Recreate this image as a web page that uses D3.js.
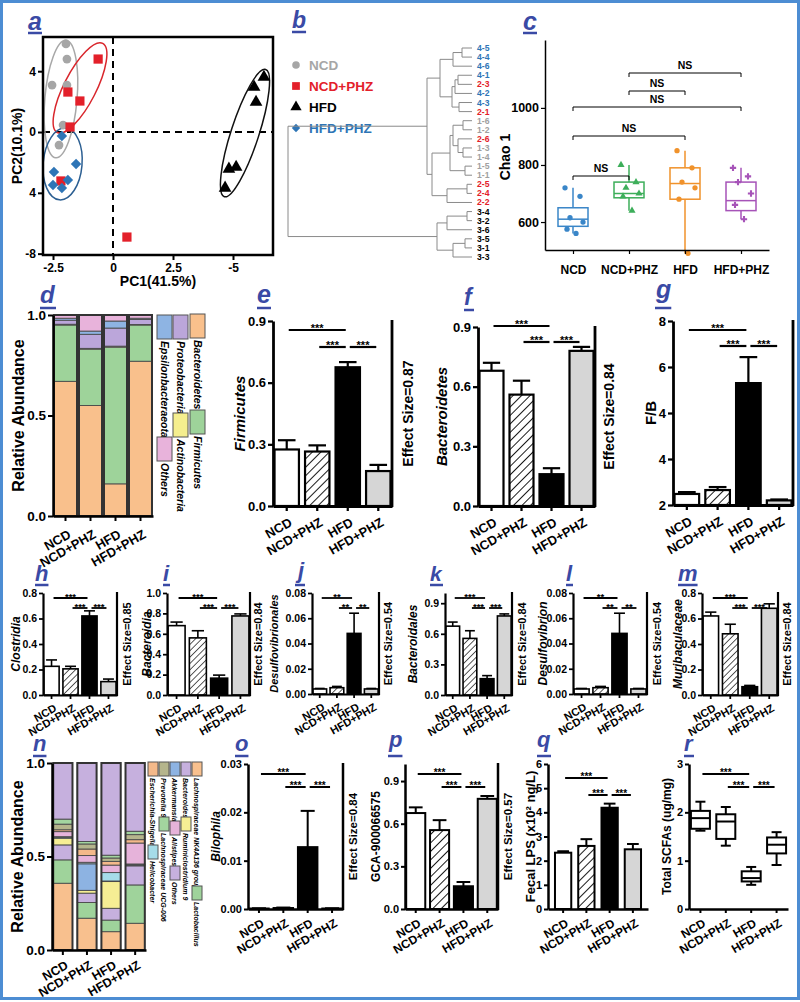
<!DOCTYPE html>
<html>
<head>
<meta charset="utf-8">
<script src="https://cdn.jsdelivr.net/npm/d3@7/dist/d3.min.js"></script>
<style>
html,body{margin:0;padding:0;background:#fff;}
svg{display:block;}
</style>
</head>
<body>
<svg id="fig" width="800" height="1002"></svg>
<script>
// ===================== DATA =====================
const groups = ["NCD","NCD+PHZ","HFD","HFD+PHZ"];

// (a) PCA scores [PC1, PC2]
const pcaNCD    = [[-1.96,5.79],[-1.92,4.80],[-2.54,3.09],[-1.92,3.09],[-2.08,0.46],[-2.25,-0.86]];
const pcaNCDPHZ = [[-0.62,4.80],[-1.88,2.63],[-1.38,2.04],[-1.79,0.33],[-2.17,-3.22],[0.58,-6.91]];
const pcaHFD    = [[6.29,3.62],[5.88,2.96],[5.96,1.97],[4.83,-2.43],[5.13,-2.30],[4.67,-3.68]];
const pcaHFDPHZ = [[-2.13,-0.26],[-1.54,-2.11],[-2.46,-2.63],[-1.88,-3.16],[-2.50,-3.49],[-2.13,-3.68]];
const pcaXTicks = [-2.5,0,2.5,5];
const pcaXTickLabels = ["-2.5","0","2.5","-5"];
const pcaYTicks = [4,0,-4,-8];
const pcaYTickLabels = ["4","0","4","-8"];
// group ellipses: [centre PC1, centre PC2, semi-axis PC1, semi-axis PC2, tilt]
const pcaEllipses = [[-2.17,2.17,0.67,3.88,5],[-1.375,2.9,0.67,3.29,27],[5.5,-0.07,0.58,4.4,18],[-2.1,-2.1,0.81,2.37,5]];

// (b) dendrogram (h = merge height)
const dendro = {h:18.4,c:[
  {h:4.5,c:[
    {h:3.2,c:[
      {h:1.9,c:[{h:1.0,c:["4-5","4-4"]},"4-6"]},
      {h:2.0,c:[{h:1.7,c:[{h:1.4,c:["4-1","2-3"]},"4-2"]},{h:1.3,c:["4-3","2-1"]}]}
    ]},
    {h:4.0,c:[
      {h:2.2,c:[{h:1.9,c:[{h:0.9,c:["1-6","1-2"]},{h:1.4,c:["2-6",{h:0.9,c:["1-3","1-4"]}]}]},{h:0.7,c:["1-5","1-1"]}]},
      {h:2.5,c:[{h:0.5,c:["2-5","2-4"]},"2-2"]}
    ]}
  ]},
  {h:3.5,c:[
    {h:2.5,c:[{h:0.5,c:["3-4","3-2"]},"3-6"]},
    {h:1.9,c:[{h:0.7,c:["3-5","3-1"]},"3-3"]}
  ]}
]};

// (c) Chao 1: [min, q1, median, q3, max] and samples
const chaoStats  = [[560,585,610,650,720],[640,685,700,740,800],[490,680,735,790,850],[610,640,675,740,790]];
const chaoPoints = [[720,690,615,600,575,560],[800,740,720,700,690,640],[850,790,740,720,680,490],[790,760,740,700,660,610]];
const chaoTicks = [600,800,1000];
const chaoComparisons = [[0,1],[0,2],[0,3],[1,2],[1,3]];

// (d) phylum composition
const phylumKeys = ["Bacteroidetes","Firmicutes","Actinobacteria","Proteobacteria","Epsilonbacteraeota","Others"];
const phyBacteroidetes = [0.67,0.55,0.16,0.77];
const phyFirmicutes    = [0.28,0.28,0.68,0.18];
const phyActino        = [0.004,0.004,0.005,0.003];
const phyProteo        = [0.02,0.07,0.09,0.025];
const phyEpsilon       = [0.01,0.016,0.035,0.006];
const phyOthers        = [0.016,0.08,0.03,0.016];

// (e)-(g)
const firmicutesMean = [0.275,0.265,0.675,0.17],  firmicutesSEM = [0.045,0.03,0.025,0.03];
const bacteroidetesMean = [0.68,0.56,0.16,0.78],   bacteroidetesSEM = [0.04,0.07,0.03,0.02];
const fbMean = [0.48,0.65,5.3,0.2],                fbSEM = [0.08,0.13,1.13,0.04];
const fbTicks = [0,2,4,6,8], fbTickLabels = ["2","4","4","6","8"];

// (h)-(m)
const clostridiaMean = [0.225,0.205,0.62,0.105],   clostridiaSEM = [0.05,0.02,0.04,0.02];
const bacteroidiaMean = [0.68,0.56,0.165,0.775],   bacteroidiaSEM = [0.035,0.07,0.03,0.02];
const desulfoOrdMean = [0.004,0.005,0.048,0.004],  desulfoOrdSEM = [0.0004,0.001,0.016,0.0004];
const bacteroidalesMean = [0.675,0.555,0.16,0.775],bacteroidalesSEM = [0.04,0.075,0.03,0.02];
const desulfoGenMean = [0.004,0.005,0.048,0.004],  desulfoGenSEM = [0.0004,0.001,0.016,0.0004];
const muribacMean = [0.62,0.48,0.065,0.68],        muribacSEM = [0.03,0.075,0.01,0.035];

// (n) genus composition
const genusKeys = ["Lachnospiraceae NK4A136 group","Lactobacillus","Bacteroides","Ruminiclostridium 9","Akkermansia","Helicobacter","Alistipes","Escherichia-Shigella","Prevotella 9","Lachnospiraceae UCG-006","Others"];
const genNK4A136   = [0.357,0.17,0.098,0.143];
const genLacto     = [0.125,0.084,0.062,0.205];
const genBacteroides = [0.08,0.05,0.063,0.102];
const genRumini    = [0.036,0.015,0.143,0.004];
const genAkk       = [0.005,0.142,0.003,0.003];
const genHelico    = [0.003,0.008,0.045,0.003];
const genAlistipes = [0.027,0.036,0.04,0.112];
const genEscher    = [0.01,0.035,0.02,0.018];
const genPrevo     = [0.03,0.027,0.018,0.027];
const genUCG006    = [0.027,0.013,0.015,0.018];
const genOthers    = [0.30,0.42,0.493,0.365];

// (o)-(r)
const bilophilaMean = [0.0001,0.0002,0.0128,0.0001], bilophilaSEM = [0.00005,0.0001,0.0075,0.00005];
const gcaMean = [0.675,0.555,0.16,0.775],            gcaSEM = [0.04,0.07,0.03,0.02];
const lpsMean = [2.33,2.61,4.19,2.47],               lpsSEM = [0.06,0.28,0.17,0.22];
const scfaStats = [[1.62,1.66,1.88,2.03,2.22],[1.31,1.45,1.81,1.96,2.11],[0.50,0.57,0.64,0.78,0.87],[0.91,1.15,1.33,1.48,1.59]];

// standard comparisons [i, j, row]
const sigPairs = [[0,2,0],[1,2,1],[2,3,1]];

// ===================== DRAWING =====================
const FONT = '"Liberation Sans", Arial, Helvetica, sans-serif';
const svg = d3.select("#fig").attr("font-family", FONT).attr("font-weight","bold");
svg.append("rect").attr("width",800).attr("height",1002).attr("fill","#fff");
const defs = svg.append("defs");
function makeHatch(id, s, w){
  const p = defs.append("pattern").attr("id",id).attr("patternUnits","userSpaceOnUse")
    .attr("width",s).attr("height",s).attr("patternTransform","rotate(45)");
  p.append("rect").attr("width",s).attr("height",s).attr("fill","#fff");
  p.append("line").attr("x1",0).attr("y1",0).attr("x2",0).attr("y2",s).attr("stroke","#000").attr("stroke-width",w);
}
makeHatch("hatchL",6,1.8); makeHatch("hatchS",4.5,1.3);

svg.append("rect").attr("x",1.5).attr("y",1.5).attr("width",797).attr("height",997)
  .attr("fill","none").attr("stroke","#4D8DD3").attr("stroke-width",3);

function txt(g,x,y,s,fs,o={}){
  const t=g.append("text").attr("x",x).attr("y",y).text(s).attr("font-size",fs)
    .attr("fill",o.fill||"#000").attr("text-anchor",o.anchor||"start");
  if(o.italic) t.attr("font-style","italic");
  if(o.db) t.attr("dominant-baseline",o.db);
  if(o.rot!=null) t.attr("transform",`rotate(${o.rot},${x},${y})`);
  return t;
}
function yAxis(g, scale, x, ticks, labels, fs, sw, ts){
  const a=g.append("g").attr("transform",`translate(${x},0)`)
    .call(d3.axisLeft(scale).tickValues(ticks).tickFormat((d,i)=>labels[i]).tickSize(ts).tickSizeOuter(0).tickPadding(2));
  a.attr("font-family",FONT).attr("font-size",fs).attr("font-weight","bold");
  a.select(".domain").attr("stroke","#000").attr("stroke-width",sw);
  a.selectAll(".tick line").attr("stroke","#000").attr("stroke-width",sw*0.8);
  a.selectAll(".tick text").attr("fill","#000");
  return a;
}
function xAxisCat(g, scale, y, fs, sw, ts, rot, dx, dy){
  const a=g.append("g").attr("transform",`translate(0,${y})`)
    .call(d3.axisBottom(scale).tickSize(ts).tickSizeOuter(0));
  a.attr("font-family",FONT).attr("font-size",fs).attr("font-weight","bold");
  a.select(".domain").attr("stroke","#000").attr("stroke-width",sw);
  a.selectAll(".tick line").attr("stroke","#000").attr("stroke-width",sw*0.8);
  a.selectAll(".tick text").attr("fill","#000").attr("x",0).attr("y",0).attr("dy","0.35em")
    .style("text-anchor","end").attr("transform",`translate(${dx},${ts+dy}) rotate(${rot})`);
  return a;
}
function letter(t,x,y,uy,fs){
  const g=svg.append("g");
  const tx=txt(g,x,y,t,fs,{italic:true,fill:"#3A4AA5"}).attr("font-weight","900");
  const bb=tx.node().getBBox();
  g.append("line").attr("x1",bb.x).attr("x2",bb.x+bb.width).attr("y1",uy).attr("y2",uy)
    .attr("stroke","#3A4AA5").attr("stroke-width",2.5);
}
function sigMarks(g, x, L, pairs, label){
  const cx=d=>x(d)+x.bandwidth()/2;
  pairs.forEach(([i,j,r])=>{
    const xa=cx(groups[i])+2, xb=cx(groups[j])-2, yy=L.sy[r];
    g.append("line").attr("x1",xa).attr("x2",xb).attr("y1",yy).attr("y2",yy).attr("stroke","#000").attr("stroke-width",L.ssw||2);
    txt(g,(xa+xb)/2,yy+L.sfs*0.22,label,L.sfs,{anchor:"middle"});
  });
}

// ---------- generic bar panel ----------
function barPanel(L, means, errs, sigLabel){
  const g=svg.append("g");
  const y=d3.scaleLinear().domain(L.dom).range([L.yb,L.yt]);
  const x=d3.scaleBand().domain(groups).range([L.ax,L.x1]).paddingInner(L.pi).paddingOuter(L.po);
  const fills=["#fff",`url(#${L.hatch})`,"#000","#d6d6d6"];
  const cx=d=>x(d)+x.bandwidth()/2;
  g.selectAll("rect.bar").data(groups).join("rect").attr("class","bar")
    .attr("x",d=>x(d)).attr("width",x.bandwidth())
    .attr("y",(d,i)=>y(means[i])).attr("height",(d,i)=>Math.max(0,y(L.dom[0])-y(means[i])))
    .attr("fill",(d,i)=>fills[i]).attr("stroke","#000").attr("stroke-width",L.bsw);
  groups.forEach((d,i)=>{
    const y0=y(means[i]), y1=y(means[i]+errs[i]), cw=x.bandwidth()*0.36;
    g.append("line").attr("x1",cx(d)).attr("x2",cx(d)).attr("y1",y0).attr("y2",y1).attr("stroke","#000").attr("stroke-width",L.bsw);
    g.append("line").attr("x1",cx(d)-cw).attr("x2",cx(d)+cw).attr("y1",y1).attr("y2",y1).attr("stroke","#000").attr("stroke-width",L.bsw);
  });
  yAxis(g,y,L.ax,L.ticks,L.labels||L.ticks.map(d3.format(L.fmt)),L.tfs,L.asw,L.ts);
  xAxisCat(g,x,L.yb,L.xfs,L.asw,L.ts,-30,4,L.xdy);
  if(L.eline) g.append("line").attr("x1",L.x1).attr("x2",L.x1).attr("y1",L.yt-1).attr("y2",L.yb+1).attr("stroke","#000").attr("stroke-width",L.asw);
  if(L.etext) txt(g,L.ex,(L.yt+L.yb)/2,L.etext,L.efs,{anchor:"middle",db:"central",rot:-90});
  txt(g,L.tx,(L.yt+L.yb)/2,L.title,L.tfs2,{anchor:"middle",db:"central",rot:-90,italic:L.ti});
  sigMarks(g,x,L,sigPairs,sigLabel);
  return g;
}

// ---------- generic stacked panel ----------
function stackPanel(L, keys, cols, series){
  const g=svg.append("g");
  const table=groups.map((grp,gi)=>{const o={grp}; keys.forEach((k,ki)=>o[k]=series[ki][gi]); return o;});
  const layers=d3.stack().keys(keys)(table);
  const y=d3.scaleLinear().domain([0,1]).range([L.yb,L.yt]);
  const x=d3.scaleBand().domain(groups).range([L.ax,L.x1]).paddingInner(L.pi).paddingOuter(L.po);
  layers.forEach((layer,li)=>{
    g.selectAll(null).data(layer).join("rect")
      .attr("x",d=>x(d.data.grp)).attr("width",x.bandwidth())
      .attr("y",d=>y(Math.min(1,d[1]))).attr("height",d=>Math.max(0,y(d[0])-y(Math.min(1,d[1]))))
      .attr("fill",cols[li]).attr("stroke","#4a4a4a").attr("stroke-width",0.9);
  });
  g.selectAll(null).data(groups).join("rect").attr("x",d=>x(d)).attr("width",x.bandwidth())
    .attr("y",y(1)).attr("height",y(0)-y(1)).attr("fill","none").attr("stroke","#333").attr("stroke-width",2);
  yAxis(g,y,L.ax,[0,0.5,1],["0.0","0.5","1.0"],L.tfs,2.5,5);
  xAxisCat(g,x,L.yb,L.xfs,2.5,5,-30,4,L.xdy);
  txt(g,L.tx,(L.yt+L.yb)/2,"Relative Abundance",16,{anchor:"middle",db:"central",rot:-90});
  L.legend.forEach((e)=>{
    const ki=keys.indexOf(e.k);
    g.append("rect").attr("x",e.x).attr("y",e.y).attr("width",L.lw).attr("height",L.lh)
      .attr("fill",cols[ki]).attr("stroke","#555").attr("stroke-width",1);
    const lx=e.x+L.lw/2-L.lfs*0.36, ly=e.y+L.lh+2;
    txt(g,lx,ly,e.k,L.lfs,{italic:true,rot:90});
  });
}

// ===================== PANEL a =====================
(function(){
  const g=svg.append("g");
  const L={x0:43,x1:273,y0:37,y1:255};
  const x=d3.scaleLinear().domain([-2.917,6.667]).range([L.x0,L.x1]);
  const y=d3.scaleLinear().domain([-8.09,6.25]).range([L.y1,L.y0]);
  g.append("line").attr("x1",x(0)).attr("x2",x(0)).attr("y1",L.y0).attr("y2",L.y1).attr("stroke","#000").attr("stroke-width",2).attr("stroke-dasharray","7,5");
  g.append("line").attr("x1",L.x0).attr("x2",L.x1).attr("y1",y(0)).attr("y2",y(0)).attr("stroke","#000").attr("stroke-width",2).attr("stroke-dasharray","7,5");
  const ecol=["#a8a8a8","#d9262c","#111","#2c5f92"];
  pcaEllipses.forEach((e,i)=>{
    const cx=x(e[0]), cy=y(e[1]), rx=x(e[0]+e[2])-x(e[0]), ry=y(e[1])-y(e[1]+e[3]);
    g.append("ellipse").attr("cx",cx).attr("cy",cy).attr("rx",rx).attr("ry",ry)
      .attr("transform",`rotate(${e[4]},${cx},${cy})`).attr("fill","none").attr("stroke",ecol[i]).attr("stroke-width",1.5);
  });
  const sets=[[pcaNCD,d3.symbolCircle,"#a6a6a6",60,0],[pcaNCDPHZ,d3.symbolSquare,"#e3202a",85,0],[pcaHFD,d3.symbolTriangle,"#000",70,0],[pcaHFDPHZ,d3.symbolSquare,"#2e75b6",55,45]];
  sets.forEach(([pts,sym,c,s,r])=>{
    g.selectAll(null).data(pts).join("path").attr("d",d3.symbol().type(sym).size(s))
      .attr("transform",d=>`translate(${x(d[0])},${y(d[1])}) rotate(${r})`).attr("fill",c);
  });
  g.append("rect").attr("x",L.x0).attr("y",L.y0).attr("width",L.x1-L.x0).attr("height",L.y1-L.y0).attr("fill","none").attr("stroke","#000").attr("stroke-width",2.5);
  const ya=yAxis(g,y,L.x0,pcaYTicks,pcaYTickLabels,12,2.5,5); ya.select(".domain").remove();
  const xa=g.append("g").attr("transform",`translate(0,${L.y1})`).call(d3.axisBottom(x).tickValues(pcaXTicks).tickFormat((d,i)=>pcaXTickLabels[i]).tickSize(5).tickSizeOuter(0));
  xa.attr("font-family",FONT).attr("font-size",12).attr("font-weight","bold");
  xa.select(".domain").remove(); xa.selectAll(".tick line").attr("stroke","#000").attr("stroke-width",2); xa.selectAll("text").attr("fill","#000");
  txt(g,(L.x0+L.x1)/2,286,"PC1(41.5%)",14,{anchor:"middle"});
  txt(g,17,(L.y0+L.y1)/2,"PC2(10.1%)",14,{anchor:"middle",db:"central",rot:-90});
  // legend
  const lg=[["NCD","#a6a6a6",d3.symbolCircle,45,0],["NCD+PHZ","#e3202a",d3.symbolSquare,60,0],["HFD","#000",d3.symbolTriangle,55,0],["HFD+PHZ","#2e75b6",d3.symbolSquare,35,45]];
  lg.forEach((d,i)=>{
    const yy=65+i*21;
    g.append("path").attr("d",d3.symbol().type(d[2]).size(d[3])).attr("transform",`translate(296,${yy}) rotate(${d[4]})`).attr("fill",d[1]);
    txt(g,309,yy,d[0],13.5,{fill:d[1],db:"central"});
  });
})();

// ===================== PANEL b =====================
(function(){
  const g=svg.append("g");
  const root=d3.hierarchy(dendro,d=>typeof d==="string"?null:d.c);
  const hx=d3.scaleLinear().domain([0,18.4]).range([472,288]);
  const leaves=root.leaves();
  const ly=d3.scalePoint().domain(leaves.map(d=>d.data)).range([48,257]);
  root.eachAfter(n=>{
    n.hh = n.children? n.data.h : 0;
    n.yy = n.children? (n.children[0].yy+n.children[n.children.length-1].yy)/2 : ly(n.data);
  });
  const lc="#8a8a8a";
  root.each(n=>{
    if(!n.children) return;
    const xn=hx(n.hh);
    g.append("line").attr("x1",xn).attr("x2",xn).attr("y1",n.children[0].yy).attr("y2",n.children[n.children.length-1].yy).attr("stroke",lc).attr("stroke-width",1);
    n.children.forEach(c=>g.append("line").attr("x1",xn).attr("x2",hx(c.hh)).attr("y1",c.yy).attr("y2",c.yy).attr("stroke",lc).attr("stroke-width",1));
  });
  const cmap={"1":"#a0a0a0","2":"#e3202a","3":"#000","4":"#2e75b6"};
  leaves.forEach(l=>txt(g,477,ly(l.data),l.data,8.6,{fill:cmap[l.data[0]],db:"central"}));
})();

// ===================== PANEL c =====================
(function(){
  const g=svg.append("g");
  const L={ax:545,x1:769,yb:250,yt:40};
  const y=d3.scaleLinear().domain([502,1238]).range([L.yb,L.yt]);
  const x=d3.scalePoint().domain(groups).range([L.ax,L.x1]).padding(0.5);
  const cols=["#3a86c8","#3dae5a","#f0922b","#a653b8"];
  const jit=[-8,7,-3,10,-6,3];
  const bw=30;
  groups.forEach((gname,i)=>{
    const s=chaoStats[i], c=x(gname), col=cols[i];
    g.append("line").attr("x1",c).attr("x2",c).attr("y1",y(s[0])).attr("y2",y(s[1])).attr("stroke",col).attr("stroke-width",1.5);
    g.append("line").attr("x1",c).attr("x2",c).attr("y1",y(s[3])).attr("y2",y(s[4])).attr("stroke",col).attr("stroke-width",1.5);
    g.append("rect").attr("x",c-bw/2).attr("width",bw).attr("y",y(s[3])).attr("height",y(s[1])-y(s[3])).attr("fill","#fff").attr("stroke",col).attr("stroke-width",1.5);
    g.append("line").attr("x1",c-bw/2).attr("x2",c+bw/2).attr("y1",y(s[2])).attr("y2",y(s[2])).attr("stroke",col).attr("stroke-width",1.5);
    const sym=[d3.symbolCircle,d3.symbolTriangle,d3.symbolCircle,d3.symbolCross][i];
    g.selectAll(null).data(chaoPoints[i]).join("path").attr("d",d3.symbol().type(sym).size(22))
      .attr("transform",(d,k)=>`translate(${c+jit[k]},${y(d)})`).attr("fill",col);
  });
  yAxis(g,y,L.ax,chaoTicks,chaoTicks.map(String),12.5,1.5,4);
  const xa=g.append("g").attr("transform",`translate(0,${L.yb})`).call(d3.axisBottom(x).tickSize(4).tickSizeOuter(0));
  xa.attr("font-family",FONT).attr("font-size",12).attr("font-weight","bold");
  xa.select(".domain").attr("stroke","#000").attr("stroke-width",1.5);
  xa.selectAll(".tick line").attr("stroke","#000").attr("stroke-width",1.2);
  xa.selectAll("text").attr("fill","#000").attr("y",15).attr("dy","0.71em");
  txt(g,505,157,"Chao 1",14,{anchor:"middle",db:"central",rot:-90});
  const rows=[176,136,107,91,73];
  chaoComparisons.forEach(([i,j],k)=>{
    const xa1=x(groups[i]), xb=x(groups[j]), yy=rows[k];
    g.append("path").attr("d",`M${xa1},${yy+4}V${yy}H${xb}V${yy+4}`).attr("fill","none").attr("stroke","#000").attr("stroke-width",1);
    txt(g,(xa1+xb)/2,yy-4,"NS",10.5,{anchor:"middle"});
  });
})();

// ===================== PANEL d =====================
stackPanel({ax:53,x1:153,yb:516,yt:315,pi:0.08,po:0.04,tfs:13.5,xfs:13,xdy:12,tx:18,
  lw:15,lh:24,lfs:10.5,
  legend:[{k:"Epsilonbacteraeota",x:157,y:315},{k:"Proteobacteria",x:173,y:315},{k:"Bacteroidetes",x:190,y:314},
          {k:"Others",x:157,y:437},{k:"Actinobacteria",x:173,y:413},{k:"Firmicutes",x:190,y:410}]},
  phylumKeys,["#f9c08c","#9ed39a","#f5ee8e","#bba6da","#8eb4e3","#e8b3db"],
  [phyBacteroidetes,phyFirmicutes,phyActino,phyProteo,phyEpsilon,phyOthers]);

// ===================== PANELS e-g =====================
const rowE={yb:506,pi:0.2,po:0.05,hatch:"hatchL",bsw:2.2,asw:2.8,ts:5,tfs:13,xfs:13,xdy:10,efs:14,tfs2:15,sfs:11,ssw:2.2};
barPanel(Object.assign({},rowE,{ax:273,x1:392,yt:321,dom:[0,0.9],ticks:[0,0.3,0.6,0.9],fmt:".1f",eline:true,etext:"Effect Size=0.87",ex:408,title:"Firmicutes",ti:true,tx:239,sy:[330,347]}),firmicutesMean,firmicutesSEM,"***");
barPanel(Object.assign({},rowE,{ax:478,x1:595,yt:327,dom:[0,0.9],ticks:[0,0.3,0.6,0.9],fmt:".1f",eline:true,etext:"Effect Size=0.84",ex:609,title:"Bacteroidetes",ti:true,tx:441,sy:[326,342]}),bacteroidetesMean,bacteroidetesSEM,"***");
barPanel(Object.assign({},rowE,{ax:673,x1:793,yb:505,yt:321,dom:[0,8],ticks:fbTicks,labels:fbTickLabels,eline:true,etext:null,title:"F/B",ti:false,tx:650,sy:[330,346]}),fbMean,fbSEM,"***");

// ===================== PANELS h-m =====================
const rowH={yb:695,yt:593,pi:0.2,po:0.05,hatch:"hatchS",bsw:1.6,asw:2.2,ts:4,tfs:10.5,xfs:11,xdy:8,efs:11,tfs2:12,sfs:9.5,ssw:1.8,sy:[598,608],eline:true};
barPanel(Object.assign({},rowH,{ax:43,x1:117,dom:[0,0.8],ticks:[0,0.2,0.4,0.6,0.8],fmt:".1f",etext:"Effect Size=0.85",ex:127,title:"Clostridia",ti:true,tx:16}),clostridiaMean,clostridiaSEM,"***");
barPanel(Object.assign({},rowH,{ax:167,x1:250,dom:[0,1.0],ticks:[0,0.2,0.4,0.6,0.8,1.0],fmt:".1f",etext:"Effect Size=0.84",ex:258,title:"Bacteroidia",ti:true,tx:147}),bacteroidiaMean,bacteroidiaSEM,"***");
barPanel(Object.assign({},rowH,{ax:312,x1:379,yb:694,dom:[0,0.08],ticks:[0,0.02,0.04,0.06,0.08],fmt:".2f",etext:"Effect Size=0.54",ex:388,title:"Desulfovibrionales",ti:true,tx:274,tfs2:11}),desulfoOrdMean,desulfoOrdSEM,"**");
barPanel(Object.assign({},rowH,{ax:445,x1:512,dom:[0,1.0],ticks:[0,0.3,0.6,0.9],fmt:".1f",etext:"Effect Size=0.84",ex:522,title:"Bacteroidales",ti:true,tx:413}),bacteroidalesMean,bacteroidalesSEM,"***");
barPanel(Object.assign({},rowH,{ax:573,x1:647,yb:694,dom:[0,0.08],ticks:[0,0.02,0.04,0.06,0.08],fmt:".2f",etext:"Effect Size=0.54",ex:657,title:"Desulfovibrion",ti:true,tx:543}),desulfoGenMean,desulfoGenSEM,"**");
barPanel(Object.assign({},rowH,{ax:702,x1:778,dom:[0,0.8],ticks:[0,0.2,0.4,0.6,0.8],fmt:".1f",etext:"Effect Size=0.84",ex:787,title:"Muribaculaceae",ti:true,tx:678}),muribacMean,muribacSEM,"***");

// ===================== PANEL n =====================
stackPanel({ax:52,x1:146,yb:950,yt:763,pi:0.2,po:0.05,tfs:13.5,xfs:12.5,xdy:9,tx:17,
  lw:10,lh:14,lfs:7,
  legend:[{k:"Escherichia-Shigella",x:148,y:762},{k:"Prevotella 9",x:159,y:762},{k:"Akkermansia",x:170,y:762},{k:"Bacteroides",x:181,y:762},{k:"Lachnospiraceae NK4A136 group",x:192,y:762},
          {k:"Lachnospiraceae UCG-006",x:159,y:817},{k:"Alistipes",x:170,y:821},{k:"Ruminiclostridium 9",x:181,y:817},
          {k:"Helicobacter",x:148,y:845},{k:"Others",x:170,y:866},{k:"Lactobacillus",x:192,y:886}]},
  genusKeys,["#f8c08e","#9fd39b","#c6b0de","#f6ee94","#8db3e2","#a6dce9","#e6b3da","#f4b98a","#b5b58c","#a3d59f","#c6b0de"],
  [genNK4A136,genLacto,genBacteroides,genRumini,genAkk,genHelico,genAlistipes,genEscher,genPrevo,genUCG006,genOthers]);

// ===================== PANELS o-r =====================
const rowO={yb:909,yt:764,pi:0.2,po:0.05,hatch:"hatchL",bsw:2,asw:2.5,ts:4,tfs:11,xfs:12,xdy:9,efs:11.5,tfs2:12,sfs:10,ssw:2,sy:[774,787]};
barPanel(Object.assign({},rowO,{ax:248,x1:343,dom:[0,0.03],ticks:[0,0.01,0.02,0.03],fmt:".2f",eline:true,etext:"Effect Size=0.84",ex:353,title:"Bilophila",ti:true,tx:216}),bilophilaMean,bilophilaSEM,"***");
barPanel(Object.assign({},rowO,{ax:405,x1:498,yt:764,dom:[0,1.02],ticks:[0,0.3,0.6,0.9],fmt:".1f",eline:true,etext:"Effect Size=0.57",ex:508,title:"GCA-900066575",ti:false,tx:376}),gcaMean,gcaSEM,"***");
barPanel(Object.assign({},rowO,{ax:548,x1:648,pi:0.3,po:0.3,dom:[0,6],ticks:[0,1,2,3,4,5,6],fmt:"d",eline:false,etext:null,title:"Fecal LPS (x10² ng/L)",ti:false,tx:530,tfs2:13,sy:[778,795]}),lpsMean,lpsSEM,"***");

(function(){ // panel r box plot
  const L=Object.assign({},rowO,{ax:689,x1:788,sy:[774,787]});
  const g=svg.append("g");
  const y=d3.scaleLinear().domain([0,3]).range([L.yb,L.yt]);
  const x=d3.scaleBand().domain(groups).range([L.ax,L.x1]).paddingInner(0.2).paddingOuter(0.05);
  const bw=19, cw=10;
  groups.forEach((gn,i)=>{
    const s=scfaStats[i], c=x(gn)+x.bandwidth()/2;
    [[s[0],s[1]],[s[3],s[4]]].forEach(([a,b])=>g.append("line").attr("x1",c).attr("x2",c).attr("y1",y(a)).attr("y2",y(b)).attr("stroke","#000").attr("stroke-width",2));
    [s[0],s[4]].forEach(v=>g.append("line").attr("x1",c-cw/2).attr("x2",c+cw/2).attr("y1",y(v)).attr("y2",y(v)).attr("stroke","#000").attr("stroke-width",2));
    g.append("rect").attr("x",c-bw/2).attr("width",bw).attr("y",y(s[3])).attr("height",y(s[1])-y(s[3])).attr("fill","#fff").attr("stroke","#000").attr("stroke-width",2);
    g.append("line").attr("x1",c-bw/2).attr("x2",c+bw/2).attr("y1",y(s[2])).attr("y2",y(s[2])).attr("stroke","#000").attr("stroke-width",2);
  });
  yAxis(g,y,L.ax,[0,1,2,3],["0","1","2","3"],L.tfs,L.asw,L.ts);
  xAxisCat(g,x,L.yb,L.xfs,L.asw,L.ts,-30,4,L.xdy);
  txt(g,667,(L.yt+L.yb)/2,"Total SCFAs (ug/mg)",12,{anchor:"middle",db:"central",rot:-90});
  sigMarks(g,x,L,sigPairs,"***");
})();

// ===================== PANEL LETTERS =====================
[["a",28,30,33,25],["b",292,28,32,23],["c",523,30,33,25],
 ["d",40,303,308,24],["e",257,303,308,25],["f",464,305,310,23],["g",656,298,308,25],
 ["h",35,581,585,22],["i",163,581,585,22],["j",298,578,585,22],["k",430,581,585,21],["l",566,581,585,22],["m",678,581,585,22],
 ["n",33,751,756,22],["o",235,751,756,22],["p",389,747,756,22],["q",537,747,756,22],["r",684,751,756,22]
].forEach(d=>letter(...d));
</script>
</body>
</html>
